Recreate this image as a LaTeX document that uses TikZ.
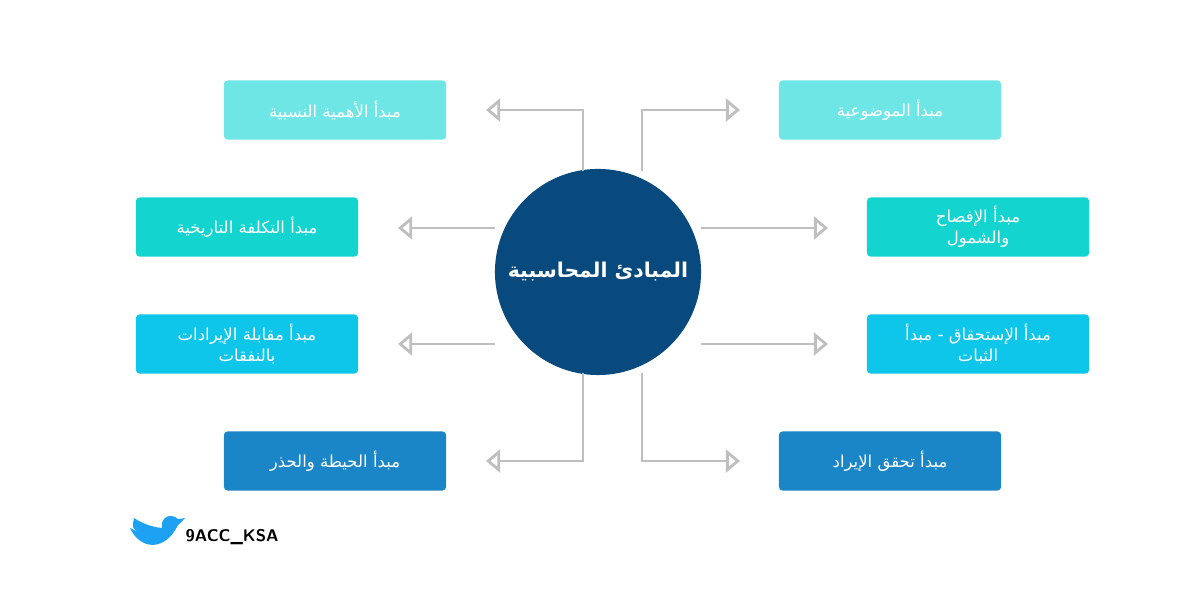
\documentclass[tikz,border=0pt]{standalone}
\usepackage{fontspec}
\newfontfamily\arabicfont[Script=Arabic]{DejaVu Sans}
\usetikzlibrary{arrows.meta}
\TeXXeTstate=1
\newcommand{\ar}[1]{{\arabicfont\beginR #1\endR}}
\definecolor{boxA}{HTML}{6FE6E6}
\definecolor{boxB}{HTML}{14D4CF}
\definecolor{boxC}{HTML}{0EC5EA}
\definecolor{boxD}{HTML}{1A86C8}
\definecolor{hub}{HTML}{08497E}
\definecolor{tw}{HTML}{1DA1F2}
\begin{document}
\begin{tikzpicture}[x=0.01cm,y=-0.01cm,
  box/.style={minimum width=2.22cm,minimum height=0.59cm,rounded corners=1pt,text=white,font=\fontsize{4.7}{6}\selectfont,align=center,inner sep=1pt},
  link/.style={draw=black!25,line width=0.8pt,-{Triangle[open,length=4pt,width=6.5pt]}}]
  \useasboundingbox (0,0) rectangle (1200,589);
  \node[circle,fill=hub,minimum size=2.06cm,inner sep=0pt,text=white,font=\bfseries\fontsize{5.8}{8}\selectfont] (hub) at (598,272) {\ar{المبادئ المحاسبية}};

  \node[box,fill=boxA] (r1) at (890,110) {\ar{مبدأ الموضوعية}};
  \node[box,fill=boxB] (r2) at (978,227) {\ar{مبدأ الإفصاح}\\\ar{والشمول}};
  \node[box,fill=boxC] (r3) at (978,344) {\ar{مبدأ الإستحقاق - مبدأ}\\\ar{الثبات}};
  \node[box,fill=boxD] (r4) at (890,461) {\ar{مبدأ تحقق الإيراد}};
  \node[box,fill=boxA] (l1) at (335,110) {\ar{مبدأ الأهمية النسبية}};
  \node[box,fill=boxB] (l2) at (247,227) {\ar{مبدأ التكلفة التاريخية}};
  \node[box,fill=boxC] (l3) at (247,344) {\ar{مبدأ مقابلة الإيرادات}\\\ar{بالنفقات}};
  \node[box,fill=boxD] (l4) at (335,461) {\ar{مبدأ الحيطة والحذر}};

  % free ends of the connectors
  \coordinate (s1) at (642,171); \coordinate (e1) at (740,110);
  \coordinate (s2) at (583,171); \coordinate (e2) at (486,110);
  \coordinate (s3) at (642,373); \coordinate (e3) at (740,461);
  \coordinate (s4) at (583,373); \coordinate (e4) at (486,461);
  \coordinate (e5) at (828,228); \coordinate (e6) at (828,344);
  \coordinate (e7) at (398,228); \coordinate (e8) at (398,344);

  \draw[link] (s1) |- (e1);
  \draw[link] (s2) |- (e2);
  \draw[link] (s3) |- (e3);
  \draw[link] (s4) |- (e4);
  \draw[link] (hub.center |- e5) ++(103,0) -- (e5);
  \draw[link] (hub.center |- e6) ++(103,0) -- (e6);
  \draw[link] (hub.center |- e7) ++(-103,0) -- (e7);
  \draw[link] (hub.center |- e8) ++(-103,0) -- (e8);

  % handle
  \fill[tw] (130,528) .. controls (140,550) and (165,552) .. (178,525)
    .. controls (182,522) and (183,520) .. (185,518)
    .. controls (180,519) .. (178,519)
    .. controls (170,512) and (160,518) .. (162,528)
    .. controls (150,527) and (140,522) .. (134,518)
    .. controls (132,528) .. (140,533) -- cycle;
  \node[font=\bfseries\fontsize{4.8}{6}\selectfont\sffamily,anchor=west,inner sep=0pt] (tag) at (185,537) {9ACC\_KSA};
\end{tikzpicture}
\end{document}
